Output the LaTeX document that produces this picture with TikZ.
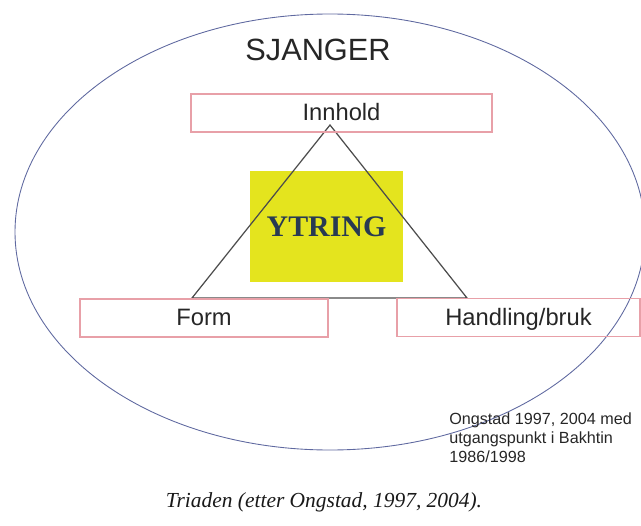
\documentclass[tikz,border=0pt]{standalone}
\usepackage{fontspec}
\newfontfamily\arialfam{Liberation Sans}
\newfontfamily\timesfam{Liberation Serif}
\usetikzlibrary{shapes.geometric}

\definecolor{rimblue}{RGB}{95,105,160}
\definecolor{boxpink}{RGB}{232,160,168}
\definecolor{ytrgul}{RGB}{228,228,30}
\definecolor{ytrtxt}{RGB}{40,58,82}

\begin{document}
\begin{tikzpicture}[
  sjanger/.style={ellipse,draw=rimblue,line width=0.5pt,minimum width=12.6cm,minimum height=8.72cm,inner sep=0pt},
  ramme/.style={rectangle,draw=boxpink,line width=0.6pt,minimum height=0.76cm,inner sep=0pt,align=center,
    font=\arialfam\fontsize{13.5}{16}\selectfont,text height=0.9em,text depth=0pt,text=black!85},
  kjerne/.style={rectangle,fill=ytrgul,minimum width=3.06cm,minimum height=2.22cm,inner sep=0pt,
    text=ytrtxt,font=\timesfam\bfseries\fontsize{17}{20}\selectfont},
  kant/.style={draw=black!70,line width=0.7pt}
]
  \useasboundingbox (0,0) rectangle (12.82,10.5);

  \node[sjanger] (genre) at (6.6,5.86) {};
  \node[anchor=base,text=black!85,font=\arialfam\fontsize{17.5}{20}\selectfont] (tittel) at (6.36,9.28) {SJANGER};

  \node[kjerne] (ytring) at (6.53,5.97) {YTRING};

  \coordinate (topp)   at (6.6,8.0);
  \coordinate (vfot)   at (3.84,4.54);
  \coordinate (hfot)   at (9.34,4.54);
  \draw[kant] (topp) -- (vfot) -- (hfot) -- cycle;

  \node[ramme,minimum width=6.02cm] (innhold) at (6.83,8.24) {Innhold};
  \node[ramme,minimum width=4.96cm] (form)    at (4.08,4.14) {Form};
  \node[ramme,minimum width=4.86cm] (bruk)    at (10.37,4.15) {Handling/bruk};

  \node[anchor=north west,inner sep=0pt,align=left,text=black!85,
    font=\arialfam\fontsize{9.2}{10.9}\selectfont] (kilde) at (8.98,2.26)
    {Ongstad 1997, 2004 med\\utgangspunkt i Bakhtin\\1986/1998};

  \node[anchor=base,text=black!90,font=\timesfam\itshape\fontsize{12.2}{14}\selectfont] (tekst) at (6.48,0.36)
    {Triaden (etter Ongstad, 1997, 2004).};
\end{tikzpicture}
\end{document}
